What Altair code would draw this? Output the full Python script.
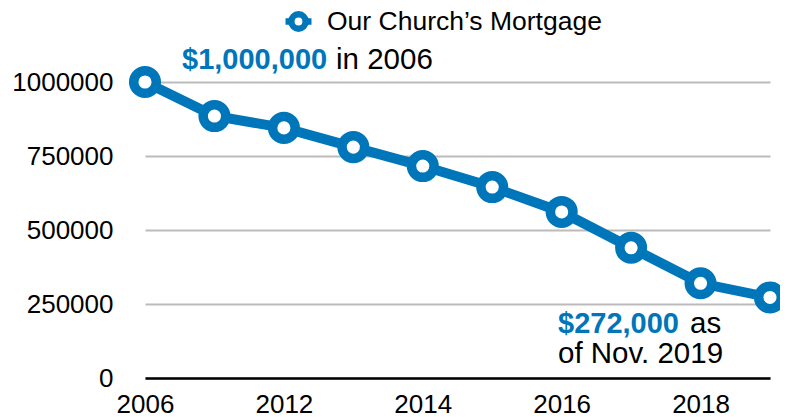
import altair as alt
import pandas as pd

BLUE = "#0076BA"

years = ["2006", "2011", "2012", "2013", "2014", "2015", "2016", "2017", "2018", "2019"]
balance = [1000000, 885000, 845000, 780000, 716000, 645000, 561000, 440000, 320000, 272000]
series_name = "Our Church\u2019s Mortgage"

x_label_years = ["2006", "2012", "2014", "2016", "2018"]
y_ticks = [0, 250000, 500000, 750000, 1000000]

ann_years = ["2006", "2019"]
ann_values = [1000000, 272000]
ann_bold = ["$1,000,000", "$272,000"]
ann_plain = ["in 2006", "as"]
ann_plain2 = "of Nov. 2019"

df = pd.DataFrame({"year": years, "balance": balance, "series": [series_name] * len(years)})
ann = pd.DataFrame({"year": ann_years, "balance": ann_values, "bold": ann_bold, "plain": ann_plain})

FONT = "Liberation Sans"

x_enc = alt.X(
    "year:O",
    scale=alt.Scale(type="point", padding=0, domain=years),
    axis=alt.Axis(
        values=x_label_years, title=None, labelAngle=0, ticks=False, grid=False,
        domain=True, domainColor="black", domainWidth=2.5,
        labelFontSize=26, labelColor="black", labelPadding=13, labelFont=FONT,
    ),
)
y_enc = alt.Y(
    "balance:Q",
    scale=alt.Scale(domain=[0, 1000000], nice=False, zero=True),
    axis=alt.Axis(
        values=y_ticks, format="d", title=None, ticks=False, domain=False,
        grid=True, gridColor="#BBBBBB", gridWidth=2,
        labelFontSize=26, labelColor="black", labelPadding=32, labelFont=FONT,
    ),
)

base = alt.Chart(df)

line = base.mark_line(color=BLUE, strokeWidth=10).encode(x=x_enc, y=y_enc)

legend_path = "M-1,0L-0.55,0M0.55,0L1,0M-0.55,0A0.55,0.55,0,1,1,0.55,0A0.55,0.55,0,1,1,-0.55,0Z"

points = base.mark_point(shape="circle", size=510, strokeWidth=9.5, fill="white", filled=False, opacity=1).encode(
    x=x_enc,
    y=y_enc,
    stroke=alt.Stroke(
        "series:N",
        scale=alt.Scale(range=[BLUE]),
        legend=alt.Legend(
            title=None, orient="none", legendX=137, legendY=-77, padding=0,
            symbolType=legend_path, symbolSize=676, symbolStrokeWidth=6.5,
            symbolFillColor="white", symbolStrokeColor=BLUE,
            labelFontSize=26.5, labelFont=FONT, labelColor="black", labelOffset=12,
            labelLimit=0,
        ),
    ),
)

abase = alt.Chart(ann)
BOLD_FS = 29
PLAIN_FS = 29.5
bold1 = abase.transform_filter(alt.datum.year == "2006").mark_text(
    align="left", baseline="alphabetic", dx=37, dy=-13, fontSize=BOLD_FS, fontWeight="bold", color=BLUE, font=FONT
).encode(x=alt.X("year:O"), y=alt.Y("balance:Q"), text="bold:N")
plain1 = abase.transform_filter(alt.datum.year == "2006").mark_text(
    align="left", baseline="alphabetic", dx=191, dy=-13, fontSize=PLAIN_FS, color="black", font=FONT
).encode(x=alt.X("year:O"), y=alt.Y("balance:Q"), text="plain:N")
bold2 = abase.transform_filter(alt.datum.year == "2019").mark_text(
    align="left", baseline="alphabetic", dx=-212, dy=36, fontSize=BOLD_FS, fontWeight="bold", color=BLUE, font=FONT
).encode(x=alt.X("year:O"), y=alt.Y("balance:Q"), text="bold:N")
plain2 = abase.transform_filter(alt.datum.year == "2019").mark_text(
    align="left", baseline="alphabetic", dx=-80, dy=36, fontSize=PLAIN_FS, color="black", font=FONT
).encode(x=alt.X("year:O"), y=alt.Y("balance:Q"), text="plain:N")
plain3 = abase.transform_filter(alt.datum.year == "2019").mark_text(
    align="left", baseline="alphabetic", dx=-212, dy=66, fontSize=PLAIN_FS, color="black", font=FONT, text=ann_plain2
).encode(x=alt.X("year:O"), y=alt.Y("balance:Q"))

chart = alt.layer(line, points, bold1, plain1, bold2, plain2, plain3).properties(
    width=625, height=296,
    autosize=alt.AutoSizeParams(type="none"),
    padding={"left": 137, "top": 74, "right": 10, "bottom": 45},
).configure(background="white", view=alt.ViewConfig(strokeWidth=0, stroke="transparent"))

chart.save("out.html", embed_options={"renderer": "svg", "actions": False})
